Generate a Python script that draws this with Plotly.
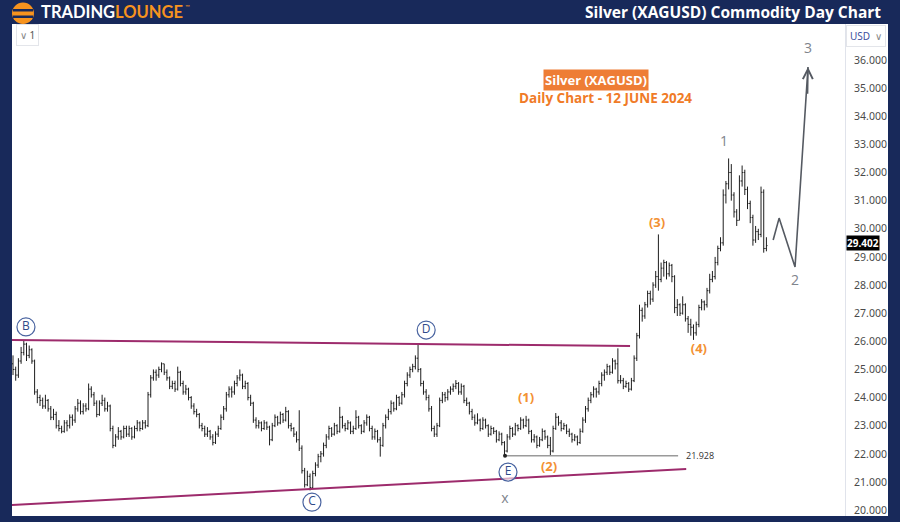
import plotly.graph_objects as go

# ---------------- data ----------------
opens = [
    25.2, 25.0, 24.8, 25.3, 25.6, 25.9, 25.5, 25.7, 25.3, 24.2,
    24.0, 23.9, 23.7, 23.9, 23.6, 23.3, 23.4, 23.0, 22.9, 22.8,
    23.1, 23.0, 23.3, 23.2, 23.6, 23.8, 23.5, 23.7, 23.6, 24.3,
    24.1, 23.8, 23.4, 23.8, 23.9, 23.6, 23.7, 22.9, 22.3, 22.6,
    22.8, 22.6, 22.9, 22.7, 22.9, 22.6, 22.9, 23.1, 22.9, 23.1,
    23.0, 24.1, 24.7, 24.9, 24.8, 25.0, 25.2, 24.9, 24.7, 24.4,
    24.5, 24.3, 24.9, 24.5, 24.2, 24.3, 24.0, 23.7, 23.5, 23.4,
    23.0, 22.9, 22.7, 22.8, 22.6, 22.4, 22.7, 22.9, 23.3, 23.6,
    24.1, 24.3, 24.2, 24.5, 24.7, 24.8, 24.4, 24.5, 24.0, 23.8,
    23.2, 23.0, 23.1, 22.9, 23.1, 22.95, 22.5, 23.0, 23.3, 23.1,
    23.4, 23.2, 23.5, 23.0, 22.9, 22.7, 22.5, 22.2, 21.4, 20.9,
    21.2, 20.8, 21.3, 21.6, 21.9, 22.0, 22.3, 22.6, 22.9, 22.7,
    23.0, 22.8, 23.3, 23.0, 22.9, 23.1, 22.8, 22.9, 23.3, 23.0,
    22.8, 23.1, 23.3, 22.9, 22.6, 22.8, 22.5, 22.3, 23.0, 23.3,
    23.5, 23.8, 23.6, 24.0, 23.8, 24.1, 24.5, 24.8, 25.0, 25.1,
    25.4, 25.0, 24.5, 24.2, 24.0, 23.6, 22.9, 22.7, 23.0, 23.9,
    24.1, 24.0, 24.2, 24.3, 24.4, 24.5, 24.2, 24.4, 23.9, 23.8,
    23.5, 23.3, 23.1, 23.2, 22.9, 23.2, 23.0, 22.7, 22.9, 22.8,
    22.5, 22.7, 22.4, 22.1, 22.6, 22.9, 22.7, 23.0, 22.9, 23.2,
    23.0, 23.2, 22.8, 22.5, 22.6, 22.3, 22.5, 22.8, 22.6, 22.3,
    22.1, 22.9, 23.3, 23.1, 22.9, 23.0, 22.8, 22.7, 22.5, 22.6,
    22.4, 22.8, 23.2, 23.6, 23.9, 24.1, 24.3, 24.2, 24.5, 24.8,
    24.9, 25.1, 24.9, 25.3, 25.2, 24.6, 24.6, 24.4, 24.5, 24.3,
    24.6, 25.4, 26.2, 27.1, 26.9, 27.3, 27.7, 27.5, 28.0, 28.3,
    28.2, 28.6, 28.8, 28.4, 28.7, 28.3, 27.2, 27.3, 27.0, 27.3,
    26.8, 26.6, 26.5, 26.3, 26.6, 27.2, 27.4, 27.3, 27.8, 28.2,
    28.3, 28.8, 29.3, 29.5, 31.2, 31.6, 32.0, 31.2, 30.6, 30.3,
    31.7, 32.0, 31.4, 30.9, 30.4, 29.6, 29.9, 29.8, 31.3, 29.3,
]
highs = [
    25.5, 25.1, 25.4, 25.8, 26.05, 25.95, 25.85, 25.75, 25.35, 24.3,
    24.1, 24.0, 24.1, 23.95, 23.7, 23.6, 23.5, 23.2, 23.0, 23.2,
    23.2, 23.4, 23.4, 23.7, 23.95, 23.9, 23.8, 23.8, 24.5, 24.4,
    24.2, 23.9, 23.9, 24.1, 24.0, 23.85, 23.75, 23.0, 22.7, 22.95,
    22.85, 23.0, 23.0, 23.0, 22.95, 23.0, 23.2, 23.15, 23.2, 23.2,
    24.2, 24.8, 25.0, 25.0, 25.1, 25.25, 25.2, 25.0, 24.75, 24.6,
    24.6, 25.1, 24.95, 24.6, 24.45, 24.35, 24.05, 23.8, 23.6, 23.45,
    23.1, 23.0, 22.95, 22.85, 22.7, 22.8, 23.0, 23.4, 23.7, 24.2,
    24.4, 24.4, 24.6, 24.8, 25.0, 24.85, 24.6, 24.55, 24.1, 23.85,
    23.3, 23.2, 23.15, 23.2, 23.15, 23.0, 23.1, 23.4, 23.35, 23.5,
    23.45, 23.67, 23.55, 23.1, 22.95, 22.8, 23.55, 22.3, 21.5, 21.4,
    21.3, 21.4, 21.7, 22.0, 22.1, 22.4, 22.7, 23.0, 22.95, 23.1,
    23.05, 23.67, 23.35, 23.1, 23.2, 23.15, 23.0, 23.55, 23.35, 23.05,
    23.2, 23.4, 23.35, 23.0, 22.9, 22.85, 22.6, 23.1, 23.4, 23.6,
    23.9, 23.85, 24.1, 24.05, 24.2, 24.6, 24.9, 25.1, 25.2, 25.5,
    25.93, 25.05, 24.6, 24.3, 24.1, 23.7, 23.0, 23.1, 24.0, 24.2,
    24.2, 24.3, 24.4, 24.5, 24.62, 24.55, 24.5, 24.45, 24.0, 23.85,
    23.6, 23.4, 23.44, 23.25, 23.3, 23.25, 23.05, 23.0, 22.95, 22.85,
    22.8, 22.75, 22.45, 22.7, 23.0, 22.95, 23.1, 23.05, 23.3, 23.25,
    23.35, 23.25, 22.85, 22.7, 22.65, 22.6, 22.9, 22.85, 22.65, 22.6,
    23.0, 23.45, 23.35, 23.2, 23.1, 23.05, 22.9, 22.75, 22.7, 22.65,
    22.9, 23.3, 23.7, 24.0, 24.2, 24.4, 24.35, 24.6, 24.9, 25.0,
    25.2, 25.15, 25.4, 25.35, 25.75, 24.8, 24.7, 24.6, 24.55, 24.7,
    25.5, 26.3, 27.3, 27.2, 27.4, 27.8, 27.8, 28.1, 28.5, 29.8,
    28.8, 28.9, 28.85, 28.8, 28.75, 28.35, 27.5, 27.35, 27.6, 27.35,
    26.9, 26.8, 26.6, 26.7, 27.3, 27.5, 27.45, 27.9, 28.4, 28.5,
    29.0, 29.4, 29.7, 31.4, 31.7, 32.5, 32.3, 31.3, 30.7, 31.9,
    32.25, 32.1, 31.5, 31.0, 30.5, 30.1, 30.0, 31.5, 31.4, 29.7,
]
lows = [
    24.8, 24.6, 24.7, 25.2, 25.5, 25.3, 25.4, 25.2, 24.1, 23.8,
    23.7, 23.6, 23.6, 23.5, 23.2, 23.2, 22.9, 22.8, 22.73, 22.75,
    22.8, 22.9, 23.0, 23.1, 23.5, 23.4, 23.4, 23.5, 23.55, 24.0,
    23.7, 23.3, 23.35, 23.7, 23.5, 23.5, 22.8, 22.2, 22.25, 22.5,
    22.5, 22.55, 22.6, 22.6, 22.5, 22.55, 22.8, 22.8, 22.85, 22.9,
    22.95, 24.0, 24.6, 24.6, 24.7, 24.9, 24.8, 24.6, 24.3, 24.3,
    24.2, 24.25, 24.4, 24.1, 24.1, 23.9, 23.6, 23.4, 23.3, 22.9,
    22.8, 22.6, 22.6, 22.5, 22.3, 22.35, 22.6, 22.85, 23.2, 23.5,
    24.0, 24.0, 24.1, 24.4, 24.6, 24.3, 24.3, 23.9, 23.7, 23.1,
    22.9, 22.9, 22.8, 22.85, 22.85, 22.3, 22.45, 22.95, 23.0, 23.05,
    23.1, 23.15, 22.9, 22.8, 22.6, 22.4, 22.1, 21.3, 20.8, 20.85,
    20.7, 20.75, 21.2, 21.5, 21.7, 21.9, 22.2, 22.5, 22.6, 22.65,
    22.7, 22.75, 22.9, 22.8, 22.85, 22.7, 22.7, 22.85, 22.9, 22.7,
    22.75, 23.0, 22.8, 22.5, 22.5, 22.4, 21.9, 22.25, 22.9, 23.2,
    23.4, 23.5, 23.55, 23.7, 23.75, 24.0, 24.4, 24.7, 24.9, 25.0,
    24.9, 24.4, 24.1, 23.9, 23.5, 22.8, 22.6, 22.6, 22.95, 23.8,
    23.85, 23.9, 24.1, 24.2, 24.3, 24.1, 24.1, 23.8, 23.7, 23.4,
    23.2, 23.0, 23.05, 22.8, 22.85, 22.9, 22.6, 22.65, 22.7, 22.4,
    22.45, 22.3, 21.93, 22.05, 22.5, 22.6, 22.65, 22.8, 22.85, 22.9,
    22.95, 22.7, 22.4, 22.4, 22.2, 22.25, 22.45, 22.5, 22.2, 21.95,
    22.05, 22.85, 23.0, 22.8, 22.85, 22.7, 22.6, 22.4, 22.45, 22.3,
    22.35, 22.75, 23.1, 23.5, 23.8, 24.0, 24.0, 24.1, 24.4, 24.6,
    24.8, 24.8, 24.85, 25.0, 24.5, 24.5, 24.3, 24.35, 24.2, 24.25,
    24.55, 25.3, 26.1, 26.7, 26.8, 27.2, 27.3, 27.4, 27.9, 27.8,
    28.1, 28.3, 28.2, 28.3, 28.1, 27.0, 26.9, 26.9, 26.95, 26.7,
    26.3, 26.2, 26.05, 26.2, 26.5, 27.1, 27.1, 27.2, 27.7, 28.1,
    28.2, 28.7, 29.2, 29.4, 30.9, 31.4, 31.0, 30.4, 30.1, 30.3,
    31.5, 31.2, 30.7, 30.2, 29.4, 29.5, 29.6, 29.7, 29.15, 29.2,
]
closes = [
    25.0, 24.8, 25.3, 25.6, 25.9, 25.5, 25.7, 25.3, 24.2, 24.0,
    23.9, 23.7, 23.9, 23.6, 23.3, 23.4, 23.0, 22.9, 22.8, 23.1,
    23.0, 23.3, 23.2, 23.6, 23.8, 23.5, 23.7, 23.6, 24.3, 24.1,
    23.8, 23.4, 23.8, 23.9, 23.6, 23.7, 22.9, 22.3, 22.6, 22.8,
    22.6, 22.9, 22.7, 22.9, 22.6, 22.9, 23.1, 22.9, 23.1, 23.0,
    24.1, 24.7, 24.9, 24.8, 25.0, 25.2, 24.9, 24.7, 24.4, 24.5,
    24.3, 24.9, 24.5, 24.2, 24.3, 24.0, 23.7, 23.5, 23.4, 23.0,
    22.9, 22.7, 22.8, 22.6, 22.4, 22.7, 22.9, 23.3, 23.6, 24.1,
    24.3, 24.2, 24.5, 24.7, 24.8, 24.4, 24.5, 24.0, 23.8, 23.2,
    23.0, 23.1, 22.9, 23.1, 22.95, 22.5, 23.0, 23.3, 23.1, 23.4,
    23.2, 23.5, 23.0, 22.9, 22.7, 22.5, 22.2, 21.4, 20.9, 21.2,
    20.8, 21.3, 21.6, 21.9, 22.0, 22.3, 22.6, 22.9, 22.7, 23.0,
    22.8, 23.3, 23.0, 22.9, 23.1, 22.8, 22.9, 23.3, 23.0, 22.8,
    23.1, 23.3, 22.9, 22.6, 22.8, 22.5, 22.3, 23.0, 23.3, 23.5,
    23.8, 23.6, 24.0, 23.8, 24.1, 24.5, 24.8, 25.0, 25.1, 25.4,
    25.0, 24.5, 24.2, 24.0, 23.6, 22.9, 22.7, 23.0, 23.9, 24.1,
    24.0, 24.2, 24.3, 24.4, 24.5, 24.2, 24.4, 23.9, 23.8, 23.5,
    23.3, 23.1, 23.2, 22.9, 23.2, 23.0, 22.7, 22.9, 22.8, 22.5,
    22.7, 22.4, 22.1, 22.6, 22.9, 22.7, 23.0, 22.9, 23.2, 23.0,
    23.2, 22.8, 22.5, 22.6, 22.3, 22.5, 22.8, 22.6, 22.3, 22.1,
    22.9, 23.3, 23.1, 22.9, 23.0, 22.8, 22.7, 22.5, 22.6, 22.4,
    22.8, 23.2, 23.6, 23.9, 24.1, 24.3, 24.2, 24.5, 24.8, 24.9,
    25.1, 24.9, 25.3, 25.2, 24.6, 24.6, 24.4, 24.5, 24.3, 24.6,
    25.4, 26.2, 27.1, 26.9, 27.3, 27.7, 27.5, 28.0, 28.3, 28.2,
    28.6, 28.8, 28.4, 28.7, 28.3, 27.2, 27.3, 27.0, 27.3, 26.8,
    26.6, 26.5, 26.3, 26.6, 27.2, 27.4, 27.3, 27.8, 28.2, 28.3,
    28.8, 29.3, 29.5, 31.2, 31.6, 32.0, 31.2, 30.6, 30.3, 31.7,
    32.0, 31.4, 30.9, 30.4, 29.6, 29.9, 29.8, 31.3, 29.3, 29.402,
]
bar_index = list(range(len(closes)))

y_tick_values = [20, 21, 22, 23, 24, 25, 26, 27, 28, 29, 30, 31, 32, 33, 34, 35, 36]
y_tick_labels = ["20.000", "21.000", "22.000", "23.000", "24.000", "25.000", "26.000",
                 "27.000", "28.000", "29.000", "30.000", "31.000", "32.000", "33.000",
                 "34.000", "35.000", "36.000"]
last_price = 29.402
last_price_text = "29.402"

# trendlines (bar index, price)
upper_line_x = [-0.4, 228.5]
upper_line_y = [26.05, 25.83]
lower_line_x = [-0.4, 249.3]
lower_line_y = [20.18, 21.46]
support_x = [182.2, 246.3]
support_y = [21.928, 21.928]
support_text = "21.928"

# projected path (bar index, price)
proj_x = [281.5, 283.7, 289.6, 294.4]
proj_y = [29.6, 30.38, 28.64, 35.75]

# circled wave labels
circ_labels = ["B", "C", "D", "E"]
circ_x = [4.8, 110.7, 153.0, 183.3]
circ_y = [26.51, 20.28, 26.40, 21.35]

# orange wave labels
orange_labels = ["(1)", "(2)", "(3)", "(4)"]
orange_x = [190.0, 198.5, 238.5, 254.0]
orange_y = [23.95, 21.49, 30.17, 25.69]

# grey wave labels
grey_labels = ["1", "2", "3", "x"]
grey_x = [263.3, 289.6, 294.4, 182.2]
grey_y = [33.08, 28.14, 36.39, 20.39]

# ---------------- styling ----------------
NAVY = "#18295a"
ORANGE = "#f39133"
TL = "#9d2b6c"
PL, PR, PT, PB = 12, 845, 24, 516


def pxx(x):
    return (x - PL) / (PR - PL)


def pxy(y):
    return (PB - y) / (PB - PT)


fig = go.Figure()

fig.add_trace(go.Ohlc(
    x=bar_index, open=opens, high=highs, low=lows, close=closes,
    increasing=dict(line=dict(color="#1e1e1e", width=1)),
    decreasing=dict(line=dict(color="#1e1e1e", width=1)),
    tickwidth=0.4, hoverinfo="skip", showlegend=False,
))

# trendlines
fig.add_trace(go.Scatter(x=upper_line_x, y=upper_line_y, mode="lines",
                         line=dict(color=TL, width=2), hoverinfo="skip"))
fig.add_trace(go.Scatter(x=lower_line_x, y=lower_line_y, mode="lines",
                         line=dict(color=TL, width=2), hoverinfo="skip"))
fig.add_trace(go.Scatter(x=support_x, y=support_y, mode="lines",
                         line=dict(color="#9a9a9a", width=1.5), hoverinfo="skip"))
fig.add_trace(go.Scatter(x=support_x[:1], y=support_y[:1], mode="markers",
                         marker=dict(color="#222", size=4), hoverinfo="skip"))
fig.add_trace(go.Scatter(x=proj_x, y=proj_y, mode="lines",
                         line=dict(color="#555a62", width=1.6), hoverinfo="skip"))

# circled labels
fig.add_trace(go.Scatter(
    x=circ_x, y=circ_y, mode="markers+text", text=circ_labels,
    textposition="middle center",
    textfont=dict(family="Open Sans", size=12, color="#2f4a8a"),
    marker=dict(symbol="circle", size=18, color="rgba(255,255,255,0.6)",
                line=dict(color="#4a64a0", width=1.2)),
    hoverinfo="skip"))

fig.add_trace(go.Scatter(
    x=orange_x, y=orange_y, mode="text", text=orange_labels,
    textposition="middle center",
    textfont=dict(family="Open Sans", size=13, color=ORANGE, weight="bold"),
    hoverinfo="skip"))

fig.add_trace(go.Scatter(
    x=grey_x, y=grey_y, mode="text", text=grey_labels,
    textposition="middle center",
    textfont=dict(family="Open Sans", size=14, color="#80848c"),
    hoverinfo="skip"))

annotations = [
    # arrow head of projection
    dict(x=proj_x[-1], y=proj_y[-1], ax=proj_x[-1] - 0.15, ay=proj_y[-1] - 1.0,
         xref="x", yref="y", axref="x", ayref="y", text="", showarrow=True,
         arrowhead=5, arrowsize=1.3, arrowwidth=1.5, arrowcolor="#555a62"),
    # support label
    dict(x=254.5, y=support_y[0], xref="x", yref="y", text=support_text, showarrow=False,
         font=dict(family="Open Sans", size=9, color="#333")),
    # last price tag
    dict(x=1, y=last_price, xref="paper", yref="y", xanchor="left", xshift=1, yshift=3,
         text="<b>" + last_price_text + "</b>", showarrow=False, bgcolor="#000000",
         font=dict(family="Noto Sans", size=10, color="white"), borderpad=0),
    # header texts
    dict(x=pxx(883), y=pxy(12), xref="paper", yref="paper", xanchor="right", yanchor="middle",
         text="<b>Silver (XAGUSD) Commodity Day Chart</b>", showarrow=False,
         font=dict(family="Open Sans", size=15.5, color="white")),
    dict(x=pxx(39), y=pxy(12.5), xref="paper", yref="paper", xanchor="left", yanchor="middle",
         text="<b>TRADING</b><b><span style='color:#f7931e'>LOUNGE</span></b>",
         showarrow=False, font=dict(family="Lato", size=16.5, color="white")),
    dict(x=pxx(183), y=pxy(7), xref="paper", yref="paper", xanchor="left", yanchor="middle",
         text="™", showarrow=False, font=dict(family="Lato", size=6, color="#f7931e")),
    # inner title
    dict(x=pxx(596), y=pxy(80), xref="paper", yref="paper", xanchor="center", yanchor="middle",
         text="<b>Silver (XAGUSD)</b>", showarrow=False, bgcolor="#ee7d35", borderpad=1,
         font=dict(family="Open Sans", size=13, color="white")),
    dict(x=pxx(605), y=pxy(98), xref="paper", yref="paper", xanchor="center", yanchor="middle",
         text="<b>Daily Chart - 12 JUNE 2024</b>", showarrow=False,
         font=dict(family="Open Sans", size=13.5, color="#f07b27")),
    # toolbar boxes
    dict(x=pxx(866), y=pxy(36), xref="paper", yref="paper", xanchor="center", yanchor="middle",
         text="<span style='color:#3d4f9e'>USD</span>  <span style='color:#888'>∨</span>",
         showarrow=False, bgcolor="white", bordercolor="#e3e5ea", borderwidth=1, borderpad=3,
         font=dict(family="Noto Sans", size=10)),
    dict(x=pxx(27.5), y=pxy(35.5), xref="paper", yref="paper", xanchor="center", yanchor="middle",
         text="<span style='color:#888'>∨</span> <span style='color:#555'>1</span>",
         showarrow=False, bgcolor="white", bordercolor="#e3e5ea", borderwidth=1, borderpad=3,
         font=dict(family="Noto Sans", size=10)),
]

shapes = [
    # white background behind the price axis
    dict(type="rect", xref="paper", yref="paper", x0=1, x1=pxx(888), y0=0, y1=1,
         fillcolor="white", line=dict(width=0), layer="below"),
    # logo
    dict(type="circle", xref="paper", yref="paper", x0=pxx(12), x1=pxx(34), y0=pxy(24), y1=pxy(2.5),
         fillcolor="#f7931e", line=dict(width=0), layer="above"),
    dict(type="rect", xref="paper", yref="paper", x0=pxx(13), x1=pxx(33), y0=pxy(11.5), y1=pxy(9),
         fillcolor=NAVY, line=dict(width=0), layer="above"),
    dict(type="rect", xref="paper", yref="paper", x0=pxx(13), x1=pxx(33), y0=pxy(18), y1=pxy(15.5),
         fillcolor=NAVY, line=dict(width=0), layer="above"),
]

fig.update_layout(
    width=900, height=522,
    margin=dict(l=PL, r=900 - PR, t=PT, b=522 - PB),
    paper_bgcolor=NAVY, plot_bgcolor="white",
    showlegend=False,
    xaxis=dict(visible=False, range=[-0.37, 308.1], rangeslider=dict(visible=False),
               fixedrange=True),
    yaxis=dict(side="right", range=[19.79, 37.28], tickvals=y_tick_values,
               ticktext=y_tick_labels, showgrid=False, zeroline=False,
               showline=True, linecolor="#e0e3eb", linewidth=1, ticks="",
               ticklabelstandoff=6, fixedrange=True,
               tickfont=dict(family="Noto Sans", size=10.5, color="#4a4a4a")),
    annotations=annotations,
    shapes=shapes,
)

fig.write_html("out.html", config={"displayModeBar": False},
               post_script="document.body.style.margin='0px';")
